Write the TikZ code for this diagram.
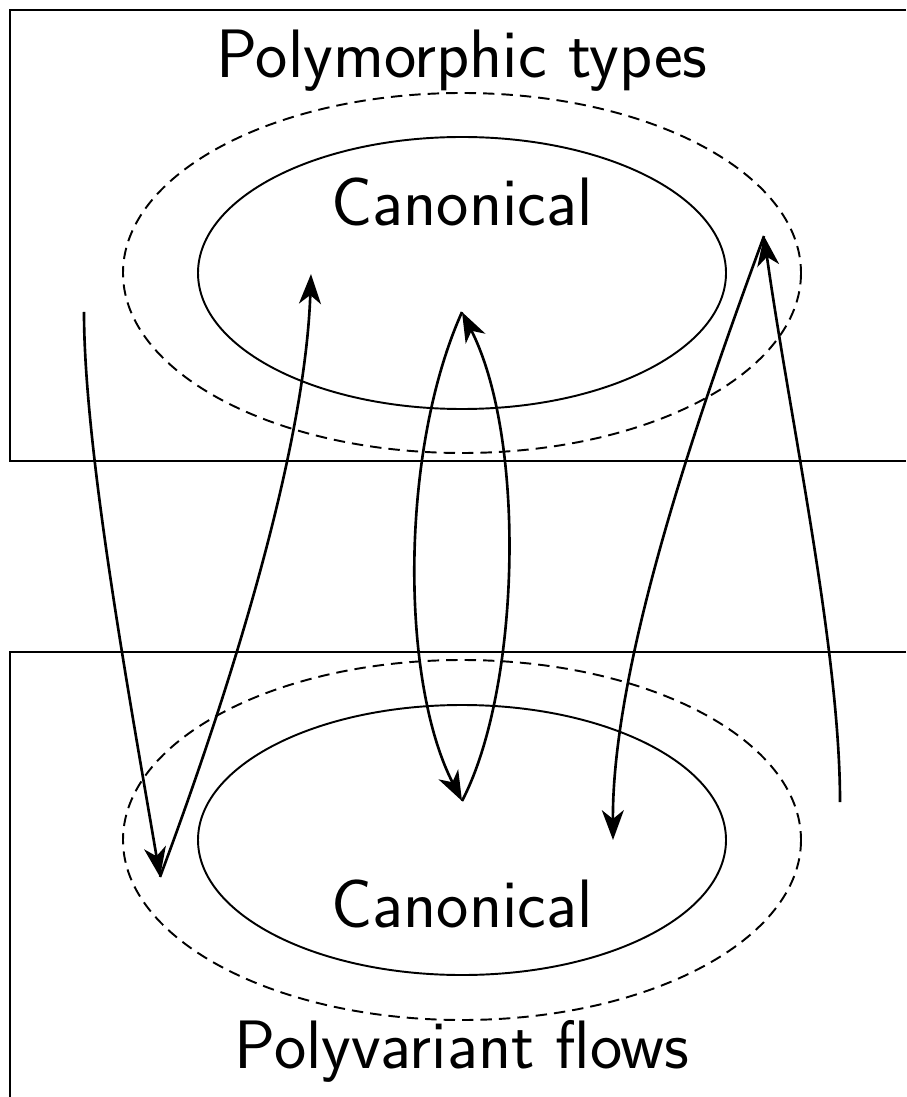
\documentclass[tikz,border=0pt]{standalone}
\usetikzlibrary{arrows.meta}
\begin{document}
\begin{tikzpicture}[x=0.02cm,y=-0.02cm,
    flow/.style={line width=1.5pt,-{Stealth[length=17pt,width=12.5pt,inset=5pt]}},
    title/.style={font=\sffamily\fontsize{39}{44}\selectfont,anchor=base},
    region/.style={line width=1.1pt,dash pattern=on 6.5pt off 4pt}]
  \useasboundingbox (0,0) rectangle (906,1097);
  % the two domains, open to the right and below
  \draw [line width=1.2pt] (906,10) -- (10,10) -- (10,461) -- (906,461);
  \draw [line width=1.2pt] (906,652) -- (10,652) -- (10,1097);
  \node [title] (types) at (462,78) {Polymorphic types};
  \node [title] (flows) at (462,1068) {Polyvariant flows};
  % ellipses
  \draw [region] (462,273) ellipse [x radius=339, y radius=180];
  \draw [line width=1.1pt] (462,273) ellipse [x radius=264, y radius=136];
  \node [title] (canontop) at (462,226) {Canonical};
  \draw [region] (462,840) ellipse [x radius=339, y radius=180];
  \draw [line width=1.1pt] (462,840) ellipse [x radius=264, y radius=135];
  \node [title] (canonbot) at (462,927) {Canonical};
  % end points of the arrows
  \coordinate (a) at (84,312);
  \coordinate (b) at (160,877);
  \coordinate (c) at (311,274);
  \coordinate (d) at (462,312);
  \coordinate (e) at (462,801);
  \coordinate (f) at (764,236);
  \coordinate (g) at (613,840);
  \coordinate (h) at (840,802);
  % arrows
  \draw [flow] (a) .. controls (84,450) and (130,700) .. (b);
  \draw [flow] (b) .. controls (230,690) and (305,450) .. (c);
  \draw [flow] (d) .. controls (400,450) and (400,680) .. (e);
  \draw [flow] (e) .. controls (520,690) and (527,440) .. (d);
  \draw [flow] (f) .. controls (715,370) and (612,650) .. (g);
  \draw [flow] (h) .. controls (840,650) and (790,420) .. (f);
\end{tikzpicture}
\end{document}
